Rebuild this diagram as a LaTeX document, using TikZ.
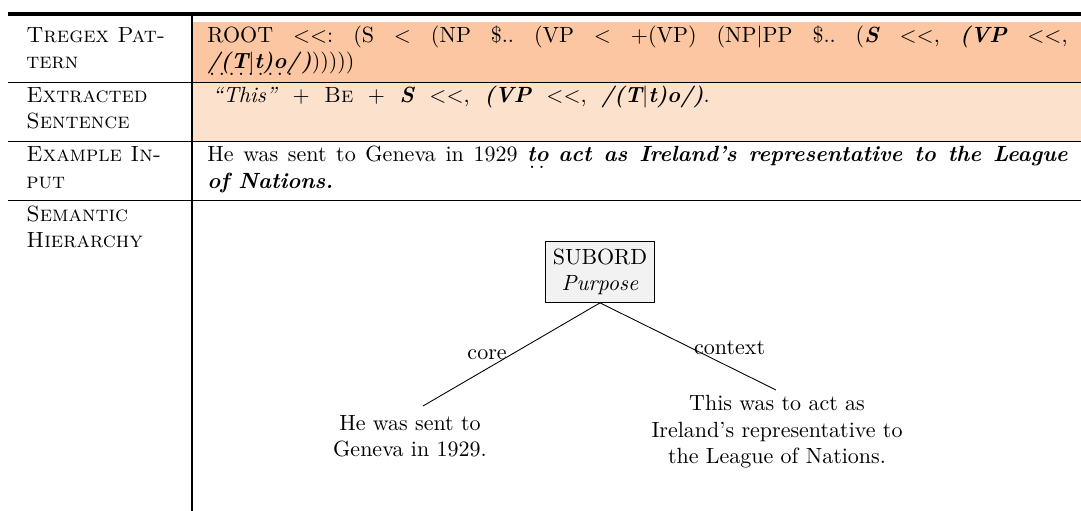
\documentclass[tikz,border=0pt]{standalone}
\definecolor{rowA}{RGB}{251,198,161}
\definecolor{rowB}{RGB}{252,225,205}
\definecolor{boxgray}{RGB}{242,242,242}
\newcommand{\bi}[1]{\textbf{\textit{#1}}}
\newcommand{\vbar}{{\normalfont|}}
\newcommand{\dotul}[1]{\leavevmode\setbox0\hbox{#1}\rlap{\raisebox{-3pt}{\hbox to \wd0{\leaders\hbox to 4.4pt{\hss.\hss}\hfil}}}\box0\relax}
\frenchspacing
\begin{document}
\begin{tikzpicture}[x=0.4545pt,y=-0.4545pt,
  lab/.style={anchor=base west, inner sep=0pt, font=\scshape},
  txt/.style={anchor=base west, inner sep=0pt},
  leaf/.style={align=center, inner sep=0pt},
  edgelab/.style={inner sep=#1},
  subbox/.style={draw, fill=boxgray, align=center, line width=0.4pt},
  treeedge/.style={line width=0.4pt},
]
\useasboundingbox (0,0) rectangle (1081,511);
% row fills
\fill[rowA] (192,22.5) rectangle (1081,82.5);
\fill[rowB] (192,82.5) rectangle (1081,141);
% rules
\draw[line width=0.55pt] (192,16) -- (192,511);
\draw[line width=1.8pt] (8,14) -- (1081,14);
\draw[line width=0.45pt] (8,82.5) -- (1081,82.5);
\draw[line width=0.7pt] (8,141.5) -- (1081,141.5);
\draw[line width=0.7pt] (8,200.5) -- (1081,200.5);
% left labels
\node[lab] (l1a) at (26,42.5) {Tregex Pat-};
\node[lab] (l1b) at (26,69) {tern};
\node[lab] (l2a) at (26,102.5) {Extracted};
\node[lab] (l2b) at (26,129) {Sentence};
\node[lab] (l3a) at (26,162) {Example In-};
\node[lab] (l3b) at (26,188.5) {put};
\node[lab] (l4a) at (26,221.5) {Semantic};
\node[lab] (l4b) at (26,248) {Hierarchy};
% right column
\node[txt] (p1) at (207,42.5) {\makebox[391pt][s]{ROOT <{}<: (S < (NP \$.. (VP < +(VP) (NP\vbar PP \$.. (\bi{S} <{}<, \bi{(VP} <{}<,}};
\node[txt] (p2) at (207,69) {\dotul{\bi{/(T\vbar t)o/}}\bi{)})))))};
\node[txt] (e1) at (212,102.5) {\makebox[226pt][s]{\textit{“This”} + \textsc{Be} + \bi{S} <{}<, \bi{(VP} <{}<, \bi{/(T\vbar t)o/)}.}};
\node[txt] (x1) at (207,162) {\makebox[391pt][s]{He was sent to Geneva in 1929 \dotul{\bi{to}} \bi{act as Ireland’s representative to the League}}};
\node[txt] (x2) at (207,188.5) {\bi{of Nations.}};
% tree
\node[subbox] (sub) at (600,272) {SUBORD\\\textit{Purpose}};
\coordinate (eL) at (423,406);
\coordinate (eR) at (776,390);
\node[leaf] (leafL) at (410,436) {He was sent to\\Geneva in 1929.};
\node[leaf] (leafR) at (777,432) {This was to act as\\Ireland’s representative to\\the League of Nations.};
\draw[treeedge] (sub.south) -- (eL) node[pos=0.5, anchor=east, edgelab=2pt] (lcore) {core};
\draw[treeedge] (sub.south) -- (eR) node[pos=0.52, anchor=west, edgelab=1pt] (lctx) {context};
\end{tikzpicture}
\end{document}
